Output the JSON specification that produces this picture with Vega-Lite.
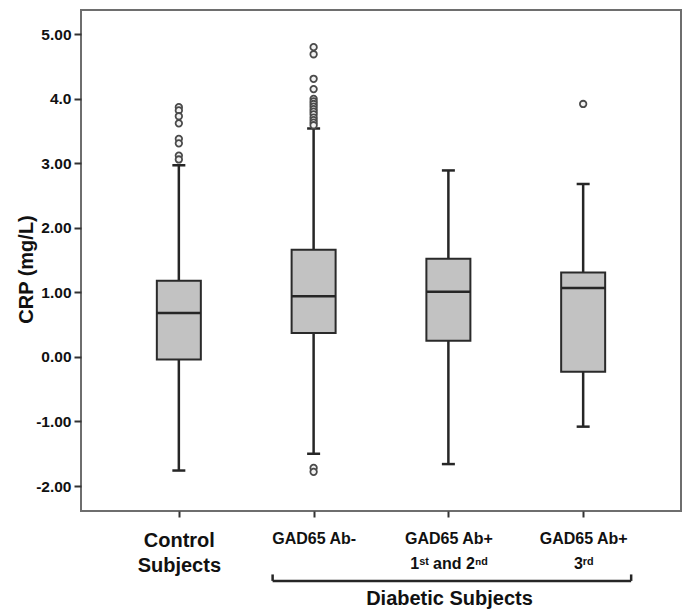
{
  "$schema": "https://vega.github.io/schema/vega-lite/v6.json",
  "width": 600,
  "height": 501,
  "autosize": "none",
  "padding": {"left": 81, "top": 10, "right": 4, "bottom": 100},
  "background": "white",
  "config": {
    "view": {"stroke": "#6e6e6e", "strokeWidth": 2},
    "font": "Liberation Sans"
  },
  "datasets": {
    "boxes": [
      {"group": "Control Subjects", "lo": -1.76, "q1": -0.04, "median": 0.68, "q3": 1.18, "hi": 2.97},
      {"group": "GAD65 Ab-", "lo": -1.5, "q1": 0.37, "median": 0.94, "q3": 1.66, "hi": 3.54},
      {"group": "GAD65 Ab+ 1st and 2nd", "lo": -1.66, "q1": 0.25, "median": 1.01, "q3": 1.52, "hi": 2.89},
      {"group": "GAD65 Ab+ 3rd", "lo": -1.08, "q1": -0.23, "median": 1.07, "q3": 1.31, "hi": 2.68}
    ],
    "outliers": [
      {"group": "Control Subjects", "crp": 3.87},
      {"group": "Control Subjects", "crp": 3.82},
      {"group": "Control Subjects", "crp": 3.73},
      {"group": "Control Subjects", "crp": 3.62},
      {"group": "Control Subjects", "crp": 3.38},
      {"group": "Control Subjects", "crp": 3.31},
      {"group": "Control Subjects", "crp": 3.12},
      {"group": "Control Subjects", "crp": 3.06},
      {"group": "GAD65 Ab-", "crp": 4.8},
      {"group": "GAD65 Ab-", "crp": 4.69},
      {"group": "GAD65 Ab-", "crp": 4.31},
      {"group": "GAD65 Ab-", "crp": 4.15},
      {"group": "GAD65 Ab-", "crp": 4.0},
      {"group": "GAD65 Ab-", "crp": 3.96},
      {"group": "GAD65 Ab-", "crp": 3.92},
      {"group": "GAD65 Ab-", "crp": 3.88},
      {"group": "GAD65 Ab-", "crp": 3.84},
      {"group": "GAD65 Ab-", "crp": 3.8},
      {"group": "GAD65 Ab-", "crp": 3.76},
      {"group": "GAD65 Ab-", "crp": 3.71},
      {"group": "GAD65 Ab-", "crp": 3.67},
      {"group": "GAD65 Ab-", "crp": 3.63},
      {"group": "GAD65 Ab-", "crp": 3.59},
      {"group": "GAD65 Ab-", "crp": -1.72},
      {"group": "GAD65 Ab-", "crp": -1.78},
      {"group": "GAD65 Ab+ 3rd", "crp": 3.92}
    ],
    "bracket": [
      {"from": "GAD65 Ab-", "to": "GAD65 Ab+ 3rd", "base": -3.47, "top": -3.37}
    ]
  },
  "encoding": {
    "x": {
      "field": "group",
      "type": "nominal",
      "sort": null,
      "scale": {"type": "point", "padding": 0.726, "domain": ["Control Subjects", "GAD65 Ab-", "GAD65 Ab+ 1st and 2nd", "GAD65 Ab+ 3rd"]},
      "axis": {
        "title": "Diabetic Subjects",
        "titleFontSize": 20,
        "titleFontWeight": "bold",
        "titleColor": "#111",
        "titleAnchor": "start",
        "titleAlign": "center",
        "titleX": 368,
        "titleY": 87,
        "titleBaseline": "middle",
        "domain": false,
        "grid": false,
        "labelAngle": 0,
        "tickSize": 6,
        "tickWidth": 2,
        "tickColor": "#333",
        "labelPadding": 13,
        "labelColor": "#111",
        "labelFontWeight": "bold",
        "labelFontSize": {"condition": {"test": "datum.value == 'Control Subjects'", "value": 20}, "value": 16},
        "labelLineHeight": 25,
        "labelExpr": "datum.value == 'Control Subjects' ? ['Control', 'Subjects'] : datum.value == 'GAD65 Ab-' ? ['GAD65 Ab-'] : datum.value == 'GAD65 Ab+ 1st and 2nd' ? ['GAD65 Ab+', '1ˢᵗ and 2ⁿᵈ'] : ['GAD65 Ab+', '3ʳᵈ']"
      }
    }
  },
  "layer": [
    {
      "data": {"name": "boxes"},
      "mark": {"type": "rule", "color": "#262626", "strokeWidth": 2.5},
      "encoding": {
        "y": {
          "field": "lo",
          "type": "quantitative",
          "scale": {"domain": [-2.387, 5.376], "nice": false, "zero": false},
          "axis": {
            "title": "CRP (mg/L)",
            "titleFontSize": 20,
            "titleFontWeight": "bold",
            "titleColor": "#111",
            "titleX": -55,
            "titleY": 259,
            "titleAngle": -90,
            "titleAlign": "center",
            "titleBaseline": "middle",
            "values": [-2, -1, 0, 1, 2, 3, 4, 5],
            "labelExpr": "datum.value == 4 ? '4.0' : (datum.value < 0 ? '-' + format(-datum.value, '.2f') : format(datum.value, '.2f'))",
            "labelFontSize": 15.5,
            "labelFontWeight": "bold",
            "labelColor": "#111",
            "labelPadding": 3,
            "tickSize": 7,
            "tickWidth": 2,
            "tickColor": "#333",
            "domain": false,
            "grid": false
          }
        },
        "y2": {"field": "hi"}
      }
    },
    {
      "data": {"name": "boxes"},
      "mark": {"type": "bar", "size": 44, "fill": "#c2c2c2", "stroke": "#2a2a2a", "strokeWidth": 2},
      "encoding": {
        "y": {"field": "q1", "type": "quantitative"},
        "y2": {"field": "q3"}
      }
    },
    {
      "data": {"name": "boxes"},
      "mark": {"type": "tick", "size": 44, "thickness": 2.5, "color": "#262626", "opacity": 1},
      "encoding": {"y": {"field": "median", "type": "quantitative"}}
    },
    {
      "data": {"name": "boxes"},
      "mark": {"type": "tick", "size": 13, "thickness": 2.5, "color": "#262626", "opacity": 1},
      "encoding": {"y": {"field": "lo", "type": "quantitative"}}
    },
    {
      "data": {"name": "boxes"},
      "mark": {"type": "tick", "size": 13, "thickness": 2.5, "color": "#262626", "opacity": 1},
      "encoding": {"y": {"field": "hi", "type": "quantitative"}}
    },
    {
      "data": {"name": "outliers"},
      "mark": {"type": "point", "shape": "circle", "size": 42, "filled": false, "fill": "#f2f2f2", "fillOpacity": 1, "stroke": "#4a4a4a", "strokeWidth": 1.8, "opacity": 1},
      "encoding": {"y": {"field": "crp", "type": "quantitative"}}
    },
    {
      "data": {"name": "bracket"},
      "mark": {"type": "rule", "color": "#262626", "strokeWidth": 2.5, "xOffset": -41, "x2Offset": 48},
      "encoding": {
        "x": {"field": "from", "type": "nominal"},
        "x2": {"field": "to"},
        "y": {"field": "base", "type": "quantitative"}
      }
    },
    {
      "data": {"name": "bracket"},
      "mark": {"type": "rule", "color": "#262626", "strokeWidth": 2.5, "xOffset": -41},
      "encoding": {
        "x": {"field": "from", "type": "nominal"},
        "y": {"field": "base", "type": "quantitative"},
        "y2": {"field": "top"}
      }
    },
    {
      "data": {"name": "bracket"},
      "mark": {"type": "rule", "color": "#262626", "strokeWidth": 2.5, "xOffset": 48},
      "encoding": {
        "x": {"field": "to", "type": "nominal"},
        "y": {"field": "base", "type": "quantitative"},
        "y2": {"field": "top"}
      }
    }
  ]
}
